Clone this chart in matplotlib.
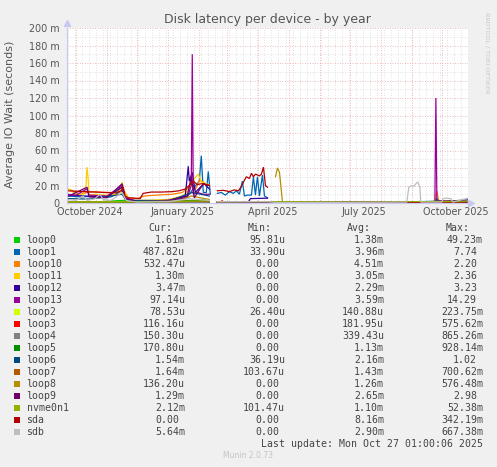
import numpy as np
import pandas as pd
import matplotlib
matplotlib.use("Agg")
import matplotlib.pyplot as plt
import matplotlib.dates as mdates
from matplotlib.patches import Rectangle

# ---------------- data (values in milliseconds) ----------------
NaN = np.nan

loop0_dates = ["2024-09-22", "2024-10-20", "2024-11-17", "2024-12-10", "2025-01-20", "2025-02-05", "2025-02-11",
               "2025-02-19", "2025-03-20", "2025-04-10", "2025-05-10", "2025-07-01", "2025-09-01", "2025-10-27"]
loop0_ms = [1.0, 1.2, 3.0, 1.0, 1.5, 4.0, 2.0, NaN, 1.0, 1.5, 0.8, 0.8, 1.0, 1.6]

loop1_dates = ["2024-09-22", "2024-10-05", "2024-10-15", "2024-10-25", "2024-11-05", "2024-11-16", "2024-11-19",
               "2024-11-25", "2024-12-10", "2025-01-01", "2025-01-15", "2025-01-22", "2025-01-27", "2025-02-01",
               "2025-02-03", "2025-02-05", "2025-02-08", "2025-02-10", "2025-02-12", "2025-02-15",
               "2025-02-19", "2025-02-23", "2025-02-27", "2025-03-03", "2025-03-07", "2025-03-10", "2025-03-13",
               "2025-03-16", "2025-03-18", "2025-03-21", "2025-03-25", "2025-03-27", "2025-03-29", "2025-03-31",
               "2025-04-02", "2025-04-05", "2025-04-07", "2025-04-10", "2025-04-13",
               "2025-04-20", "2025-06-01", "2025-08-01", "2025-09-26", "2025-10-27"]
loop1_ms = [8.0, 7.0, 7.5, 6.0, 7.0, 14.0, 6.0, 3.0, 3.0, 3.0, 4.0, 10.0, 18.0, 25.0,
            54.0, 12.0, 12.0, 36.0, 10.0, NaN,
            11.0, 12.0, 9.0, 13.0, 11.0, 14.0, 10.0, 25.0, 8.0, 9.0, 9.0, 30.0, 9.0, 30.0,
            8.0, 32.0, 8.0, 6.0, NaN,
            0.5, 0.4, 0.4, 2.0, 0.5]

loop10_dates = ["2024-09-22", "2024-09-26", "2024-10-01", "2024-10-06", "2024-10-12", "2024-10-20", "2024-10-28",
                "2024-11-05", "2024-11-12", "2024-11-16", "2024-11-18", "2024-11-22", "2024-12-01", "2024-12-08",
                "2024-12-20", "2025-01-05", "2025-01-15", "2025-01-22", "2025-01-25", "2025-01-28", "2025-02-01",
                "2025-02-05", "2025-02-09", "2025-02-11", "2025-02-15", "2025-02-19", "2025-04-10", "2025-06-01",
                "2025-09-24", "2025-09-26", "2025-09-28", "2025-10-27"]
loop10_ms = [16.0, 15.0, 12.0, 10.0, 12.0, 13.0, 12.0, 12.0, 13.0, 22.0, 14.0, 6.0, 5.0, 8.0,
             9.0, 10.0, 12.0, 18.0, 28.0, 15.0, 26.0, 24.0, 20.0, 21.0, NaN, 1.0, 1.0, 0.6,
             0.8, 14.0, 1.0, 0.5]

loop11_dates = ["2024-09-22", "2024-09-25", "2024-10-01", "2024-10-08", "2024-10-11", "2024-10-12", "2024-10-13",
                "2024-10-14", "2024-10-20", "2024-11-01", "2024-11-14", "2024-11-16", "2024-11-18", "2024-11-25",
                "2024-12-10", "2025-01-01", "2025-01-15", "2025-01-22", "2025-01-27", "2025-01-31", "2025-02-03",
                "2025-02-08", "2025-02-11", "2025-02-15", "2025-02-19", "2025-04-10", "2025-07-01", "2025-10-27"]
loop11_ms = [17.0, 15.0, 10.0, 9.0, 20.0, 41.0, 30.0, 9.0, 10.0, 9.0, 10.0, 24.0, 12.0, 3.0,
             3.0, 4.0, 8.0, 15.0, 28.0, 33.0, 24.0, 22.0, 20.0, NaN, 1.0, 1.0, 0.8, 1.3]

loop12_dates = ["2024-09-22", "2024-10-10", "2024-11-01", "2024-11-16", "2024-11-19", "2024-12-01", "2025-01-01",
                "2025-01-18", "2025-01-21", "2025-01-22", "2025-01-25", "2025-01-28", "2025-02-02", "2025-02-06",
                "2025-02-11", "2025-02-15", "2025-02-19", "2025-03-10", "2025-03-22", "2025-03-24", "2025-04-10",
                "2025-04-12", "2025-04-20", "2025-06-01", "2025-09-20", "2025-10-05", "2025-10-27"]
loop12_ms = [9.0, 8.0, 7.0, 18.0, 5.0, 2.0, 3.0, 8.0, 42.0, 25.0, 35.0, 12.0, 18.0, 22.0,
             16.0, NaN, 1.0, 1.5, 1.5, 5.0, 5.5, NaN, 0.4, 0.4, 1.5, 2.0, 3.5]

loop13_dates = ["2024-09-22", "2024-10-01", "2024-10-12", "2024-10-14", "2024-11-01", "2024-11-16", "2024-11-19",
                "2024-12-01", "2025-01-01", "2025-01-20", "2025-01-24", "2025-01-25", "2025-01-26", "2025-01-30",
                "2025-02-05", "2025-02-11", "2025-02-15", "2025-02-19", "2025-06-01", "2025-09-24", "2025-09-25",
                "2025-09-26", "2025-10-27"]
loop13_ms = [10.0, 9.0, 16.0, 9.0, 8.0, 20.0, 6.0, 2.0, 3.0, 6.0, 20.0, 170.0, 10.0, 12.0,
             10.0, 10.0, NaN, 0.3, 0.3, 1.0, 120.0, 3.0, 0.1]

loop2_dates = ["2024-09-22", "2025-02-11", "2025-02-15", "2025-02-19", "2025-10-27"]
loop2_ms = [0.2, 0.3, NaN, 0.2, 0.1]

loop3_dates = ["2024-09-22", "2024-12-20", "2025-02-11", "2025-02-15", "2025-02-19", "2025-02-24", "2025-02-26",
               "2025-05-01", "2025-10-27"]
loop3_ms = [0.2, 0.2, 0.3, NaN, 0.2, 2.5, 0.2, 0.2, 0.1]

loop4_dates = ["2024-09-22", "2025-02-11", "2025-02-15", "2025-02-19", "2025-10-27"]
loop4_ms = [0.3, 0.4, NaN, 0.3, 0.2]

loop5_dates = ["2024-09-22", "2024-12-20", "2025-01-25", "2025-02-11", "2025-02-15", "2025-02-19", "2025-07-01",
               "2025-10-27"]
loop5_ms = [0.8, 1.0, 3.0, 1.5, NaN, 0.8, 0.8, 0.2]

loop6_dates = ["2024-09-22", "2024-10-15", "2024-11-16", "2024-11-20", "2025-01-01", "2025-01-25", "2025-02-11",
               "2025-02-15", "2025-02-19", "2025-04-10", "2025-06-01", "2025-09-25", "2025-09-26", "2025-09-27",
               "2025-10-27"]
loop6_ms = [5.0, 4.5, 10.0, 3.0, 2.0, 12.0, 8.0, NaN, 1.0, 1.0, 0.8, 1.0, 5.0, 1.0, 1.5]

loop7_dates = ["2024-09-22", "2024-12-01", "2025-01-10", "2025-02-11", "2025-02-15", "2025-02-19", "2025-10-27"]
loop7_ms = [1.5, 1.5, 1.6, 1.8, NaN, 1.2, 1.6]

loop8_dates = ["2024-09-22", "2025-01-10", "2025-01-24", "2025-02-11", "2025-02-15", "2025-02-19", "2025-04-12",
               "2025-04-15", "2025-04-18", "2025-04-20", "2025-04-22", "2025-04-25", "2025-05-10", "2025-10-27"]
loop8_ms = [1.0, 1.5, 8.0, 4.0, NaN, 0.5, 0.5, NaN, 30.0, 40.0, 35.0, 1.0, 0.2, 0.1]

loop9_dates = ["2024-09-22", "2024-10-12", "2024-10-14", "2024-11-01", "2024-11-16", "2024-11-19", "2024-12-01",
               "2025-01-01", "2025-01-20", "2025-01-24", "2025-01-27", "2025-02-05", "2025-02-11", "2025-02-15",
               "2025-02-19", "2025-06-01", "2025-09-28", "2025-10-10", "2025-10-27"]
loop9_ms = [7.0, 18.0, 7.0, 6.0, 22.0, 5.0, 1.5, 2.0, 8.0, 30.0, 6.0, 22.0, 20.0, NaN,
            0.5, 0.5, 1.5, 2.5, 1.3]

nvme0n1_dates = ["2024-09-22", "2024-11-20", "2025-01-10", "2025-02-11", "2025-02-15", "2025-02-19", "2025-04-10",
                 "2025-07-01", "2025-09-01", "2025-10-27"]
nvme0n1_ms = [1.2, 1.5, 2.0, 2.5, NaN, 1.2, 1.5, 1.0, 1.5, 2.1]

sda_dates = ["2024-09-22", "2024-09-30", "2024-10-10", "2024-10-20", "2024-11-01", "2024-11-10", "2024-11-15",
             "2024-11-17", "2024-11-19", "2024-11-22", "2024-11-28", "2024-12-04", "2024-12-07", "2024-12-15",
             "2024-12-25", "2025-01-05", "2025-01-12", "2025-01-18", "2025-01-22", "2025-01-26", "2025-01-30",
             "2025-02-03", "2025-02-08", "2025-02-11", "2025-02-15", "2025-02-19", "2025-02-25", "2025-03-03",
             "2025-03-08", "2025-03-12", "2025-03-15", "2025-03-18", "2025-03-20", "2025-03-23", "2025-03-25",
             "2025-03-27", "2025-03-29", "2025-03-31", "2025-04-02", "2025-04-04", "2025-04-06", "2025-04-08",
             "2025-04-10", "2025-04-13", "2025-04-20", "2025-10-27"]
sda_ms = [14.0, 13.5, 13.0, 12.5, 12.0, 11.5, 14.0, 18.0, 8.0, 6.0, 5.5, 5.0, 11.0, 12.5,
          12.5, 13.0, 14.0, 16.0, 20.0, 25.0, 21.0, 22.0, 21.0, 20.0, NaN, 14.0, 14.5, 13.0,
          15.0, 14.0, 19.0, 26.0, 30.0, 28.0, 34.0, 30.0, 33.0, 32.0, 31.0, 33.0, 41.0, 20.0,
          18.0, NaN, 0.0, 0.0]

sdb_dates = ["2024-09-22", "2024-10-01", "2024-10-08", "2024-10-12", "2024-10-20", "2024-10-25", "2024-10-28",
             "2024-11-05", "2024-11-16", "2024-11-20", "2024-12-01", "2025-01-01", "2025-01-22", "2025-02-01",
             "2025-02-11", "2025-02-15", "2025-02-19", "2025-04-10", "2025-04-20", "2025-08-27", "2025-08-29",
             "2025-09-01", "2025-09-03", "2025-09-05", "2025-09-07", "2025-09-09", "2025-09-10", "2025-10-01",
             "2025-10-02", "2025-10-06", "2025-10-10", "2025-10-12", "2025-10-27"]
sdb_ms = [4.0, 3.0, 8.0, 3.0, 5.0, 10.0, 4.0, 3.0, 12.0, 3.0, 1.0, 1.5, 5.0, 4.0,
          3.0, NaN, 1.5, 1.5, 0.5, 1.0, 18.0, 20.0, 19.0, 22.0, 24.0, 18.0, 1.0, 1.0,
          5.0, 5.5, 5.0, 1.0, 5.6]

names = ["loop0", "loop1", "loop10", "loop11", "loop12", "loop13", "loop2", "loop3", "loop4",
         "loop5", "loop6", "loop7", "loop8", "loop9", "nvme0n1", "sda", "sdb"]
colors = ["#00CC00", "#0066B3", "#FF8000", "#FFCC00", "#330099", "#990099", "#CCFF00", "#FF0000",
          "#808080", "#008F00", "#00487D", "#B35A00", "#B38F00", "#6B006B", "#8FB300", "#B30000", "#BEBEBE"]
cur_vals = ["1.61m", "487.82u", "532.47u", "1.30m", "3.47m", "97.14u", "78.53u", "116.16u", "150.30u",
            "170.80u", "1.54m", "1.64m", "136.20u", "1.29m", "2.12m", "0.00", "5.64m"]
min_vals = ["95.81u", "33.90u", "0.00", "0.00", "0.00", "0.00", "26.40u", "0.00", "0.00",
            "0.00", "36.19u", "103.67u", "0.00", "0.00", "101.47u", "0.00", "0.00"]
avg_vals = ["1.38m", "3.96m", "4.51m", "3.05m", "2.29m", "3.59m", "140.88u", "181.95u", "339.43u",
            "1.13m", "2.16m", "1.43m", "1.26m", "2.65m", "1.10m", "8.16m", "2.90m"]
max_vals = ["49.23m", "7.74", "2.20", "2.36", "3.23", "14.29", "223.75m", "575.62m", "865.26m",
            "928.14m", "1.02", "700.62m", "576.48m", "2.98", "52.38m", "342.19m", "667.38m"]

series_dates = [loop0_dates, loop1_dates, loop10_dates, loop11_dates, loop12_dates, loop13_dates,
                loop2_dates, loop3_dates, loop4_dates, loop5_dates, loop6_dates, loop7_dates,
                loop8_dates, loop9_dates, nvme0n1_dates, sda_dates, sdb_dates]
series_ms = [loop0_ms, loop1_ms, loop10_ms, loop11_ms, loop12_ms, loop13_ms, loop2_ms, loop3_ms,
             loop4_ms, loop5_ms, loop6_ms, loop7_ms, loop8_ms, loop9_ms, nvme0n1_ms, sda_ms, sdb_ms]

x_labels = ["October 2024", "January 2025", "April 2025", "July 2025", "October 2025"]
x_label_dates = ["2024-10-15", "2025-01-15", "2025-04-15", "2025-07-15", "2025-10-15"]

# ---------------- figure ----------------
W, H = 497, 467
fig = plt.figure(figsize=(W / 100, H / 100), dpi=100, facecolor="#F0F0F0")
L, R, T, B = 67, 468, 28, 203
ax = fig.add_axes([L / W, (H - B) / H, (R - L) / W, (B - T) / H])
ax.set_facecolor("white")

end = pd.Timestamp("2025-10-27 01:00")
start = end - pd.Timedelta(days=400)
ax.set_xlim(start, end)
ax.set_ylim(0, 0.2)

# grid
for d in pd.date_range("2024-09-23", end, freq="7D"):
    ax.axvline(d, color="#D8D8D8", lw=0.6, ls=(0, (1, 2)), zorder=0)
for v in np.arange(0.01, 0.2, 0.02):
    ax.axhline(v, color="#D8D8D8", lw=0.6, ls=(0, (1, 2)), zorder=0)
for d in pd.date_range("2024-10-01", end, freq="MS"):
    ax.axvline(d, color="#E9A3A3", lw=0.6, ls=(0, (1, 2)), zorder=0.5)
for v in np.arange(0.02, 0.201, 0.02):
    ax.axhline(v, color="#E9A3A3", lw=0.6, ls=(0, (1, 2)), zorder=0.5)

for nm, col, ds, vs in zip(names, colors, series_dates, series_ms):
    t = pd.to_datetime(ds)
    y = np.array(vs, dtype=float) / 1000.0
    ax.plot(t, y, color=col, lw=0.9, zorder=2, solid_joinstyle="miter")

# axes
for s in ["top", "right"]:
    ax.spines[s].set_visible(False)
for s in ["left", "bottom"]:
    ax.spines[s].set_color("#C8C8F0")
    ax.spines[s].set_linewidth(0.8)
ax.plot([0], [1.03], marker="^", color="#C8C8F0", ms=4, transform=ax.transAxes, clip_on=False)
ax.plot([1.008], [0], marker=">", color="#C8C8F0", ms=4, transform=ax.transAxes, clip_on=False)

yt = np.arange(0, 0.201, 0.02)
ax.set_yticks(yt)
ax.set_yticklabels(["0"] + [f"{int(round(v * 1000))} m" for v in yt[1:]])
ax.set_xticks(pd.to_datetime(x_label_dates))
ax.set_xticklabels(x_labels)
ax.tick_params(axis="both", length=0, labelsize=6.9, colors="#555555")
ax.tick_params(axis="y", pad=5.5)
ax.tick_params(axis="x", pad=3)

fig.text(267 / W, 1 - 19 / H, "Disk latency per device - by year", ha="center", va="center",
         fontsize=9, color="#555555")
fig.text(10 / W, 1 - 114 / H, "Average IO Wait (seconds)", ha="center", va="center",
         rotation=90, fontsize=8, color="#555555")
fig.text(487 / W, 1 - 53 / H, "RRDTOOL / TOBI OETIKER", ha="center", va="center",
         rotation=270, fontsize=4.6, color="#C8C8C8")

# legend table
mono = "DejaVu Sans Mono"
fs = 7.15
cw = 5.97
tc = "#444444"
def fy(y):
    return 1 - y / H

col_ends = [185, 285, 384, 483]
for hdr, ce in zip(["Cur:", "Min:", "Avg:", "Max:"], col_ends):
    fig.text((ce - 13) / W, fy(227.7), hdr, ha="right", va="center", family=mono, fontsize=fs, color=tc)

def val_x(s, ce):
    return ce if s[-1].isalpha() else ce - cw

for i, nm in enumerate(names):
    yc = 239.7 + 12.0 * i
    fig.patches.append(Rectangle((14 / W, fy(yc + 3)), 6 / W, 6 / H, transform=fig.transFigure,
                                 facecolor=colors[i], edgecolor="none"))
    fig.text(26.5 / W, fy(yc), nm, ha="left", va="center", family=mono, fontsize=fs, color=tc)
    for s, ce in zip([cur_vals[i], min_vals[i], avg_vals[i], max_vals[i]], col_ends):
        fig.text(val_x(s, ce) / W, fy(yc), s, ha="right", va="center", family=mono, fontsize=fs, color=tc)

fig.text(483 / W, fy(443.7), "Last update: Mon Oct 27 01:00:06 2025", ha="right", va="center",
         family=mono, fontsize=fs, color=tc)
fig.text(248 / W, fy(455.6), "Munin 2.0.73", ha="center", va="center", fontsize=5.5, color="#C4C4C4")

fig.savefig("out.png", dpi=100, facecolor=fig.get_facecolor())
